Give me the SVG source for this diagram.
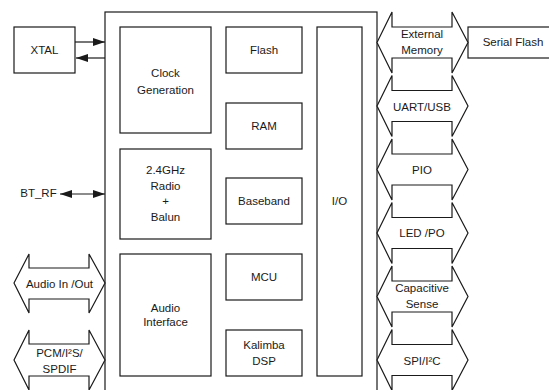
<svg xmlns="http://www.w3.org/2000/svg" width="549" height="390" viewBox="0 0 549 390">
<style>
.b{fill:#fff;stroke:#1a1a1a;stroke-width:1.2}
.a{fill:#fff;stroke:#1a1a1a;stroke-width:1.2;stroke-linejoin:miter}
.l{stroke:#1a1a1a;stroke-width:1.2;fill:none}
text{font-family:"Liberation Sans",Arial,sans-serif;font-size:11.5px;fill:#1a1a1a;text-anchor:middle}
</style>
<defs>
<marker id="ah" markerWidth="12" markerHeight="8" refX="12" refY="4" orient="auto" markerUnits="userSpaceOnUse">
<path d="M0,0 L12,4 L0,8 Z" fill="#1a1a1a"/>
</marker>
<marker id="ahs" markerWidth="12" markerHeight="8" refX="0" refY="4" orient="auto" markerUnits="userSpaceOnUse">
<path d="M12,0 L0,4 L12,8 Z" fill="#1a1a1a"/>
</marker>
</defs>
<rect width="549" height="390" fill="#fff"/>
<g id="chip"><rect class="b" x="105" y="12" width="272" height="382"/></g>
<g id="xtal"><rect class="b" x="14" y="27" width="61" height="46"/><text x="44.5" y="54">XTAL</text></g>
<g id="clock"><rect class="b" x="120" y="27" width="91" height="106"/><text x="165.5" y="77">Clock</text><text x="165.5" y="94">Generation</text></g>
<g id="radio"><rect class="b" x="120" y="149" width="91" height="90"/><text x="165.5" y="174">2.4GHz</text><text x="165.5" y="189.5">Radio</text><text x="165.5" y="205">+</text><text x="165.5" y="221">Balun</text></g>
<g id="audio"><rect class="b" x="120" y="254" width="91" height="122"/><text x="165.5" y="312">Audio</text><text x="165.5" y="326">Interface</text></g>
<g id="flash"><rect class="b" x="226" y="27" width="76" height="46"/><text x="264" y="54">Flash</text></g>
<g id="ram"><rect class="b" x="226" y="103" width="76" height="46"/><text x="264" y="129.5">RAM</text></g>
<g id="baseband"><rect class="b" x="226" y="178" width="76" height="46"/><text x="264" y="205">Baseband</text></g>
<g id="mcu"><rect class="b" x="226" y="254" width="76" height="46"/><text x="264" y="281">MCU</text></g>
<g id="kalimba"><rect class="b" x="226" y="330" width="76" height="46"/><text x="264" y="349">Kalimba</text><text x="264" y="365">DSP</text></g>
<g id="io"><rect class="b" x="317" y="27" width="45" height="349"/><text x="339.5" y="205">I/O</text></g>
<g id="serialflash"><rect class="b" x="468" y="27" width="84" height="31"/><text x="513" y="46">Serial Flash</text></g>
<g id="extmem"><polygon class="a" points="377,42.5 392,12 392,27 452,27 452,12 468,42.5 452,73 452,58 392,58 392,73"/><text x="422" y="38">External</text><text x="422" y="54">Memory</text></g>
<g id="uart"><polygon class="a" points="377,106 392,75.5 392,90.5 452,90.5 452,75.5 468,106 452,136.5 452,121.5 392,121.5 392,136.5"/><text x="422" y="110.5">UART/USB</text></g>
<g id="pio"><polygon class="a" points="377,169.5 392,139 392,154 452,154 452,139 468,169.5 452,200 452,185 392,185 392,200"/><text x="422" y="174">PIO</text></g>
<g id="led"><polygon class="a" points="377,233 392,202.5 392,217.5 452,217.5 452,202.5 468,233 452,263.5 452,248.5 392,248.5 392,263.5"/><text x="422" y="236.5">LED /PO</text></g>
<g id="capsense"><polygon class="a" points="377,296.5 392,266 392,281 452,281 452,266 468,296.5 452,327 452,312 392,312 392,327"/><text x="422" y="292">Capacitive</text><text x="422" y="308">Sense</text></g>
<g id="spi"><polygon class="a" points="377,360 392,329.5 392,344.5 452,344.5 452,329.5 468,360 452,390.5 452,375.5 392,375.5 392,390.5"/><text x="422" y="365">SPI/I²C</text></g>
<g id="audioio"><polygon class="a" points="14,283 29,254 29,268 89,268 89,254 105,283 89,313 89,299 29,299 29,313"/><text x="59.5" y="288">Audio In /Out</text></g>
<g id="pcm"><polygon class="a" points="14,360 29,330 29,344 89,344 89,330 105,360 89,390 89,376 29,376 29,390"/><text x="59.5" y="357">PCM/I²S/</text><text x="59.5" y="373">SPDIF</text></g>
<g id="btrf"><text x="38.5" y="197">BT_RF</text></g>
<g id="connectors">
<line class="l" x1="75" y1="42" x2="105" y2="42" marker-end="url(#ah)"/>
<line class="l" x1="105" y1="58" x2="76" y2="58" marker-end="url(#ah)"/>
<line class="l" x1="60" y1="194" x2="105" y2="194" marker-start="url(#ahs)" marker-end="url(#ah)"/>
</g>
</svg>
